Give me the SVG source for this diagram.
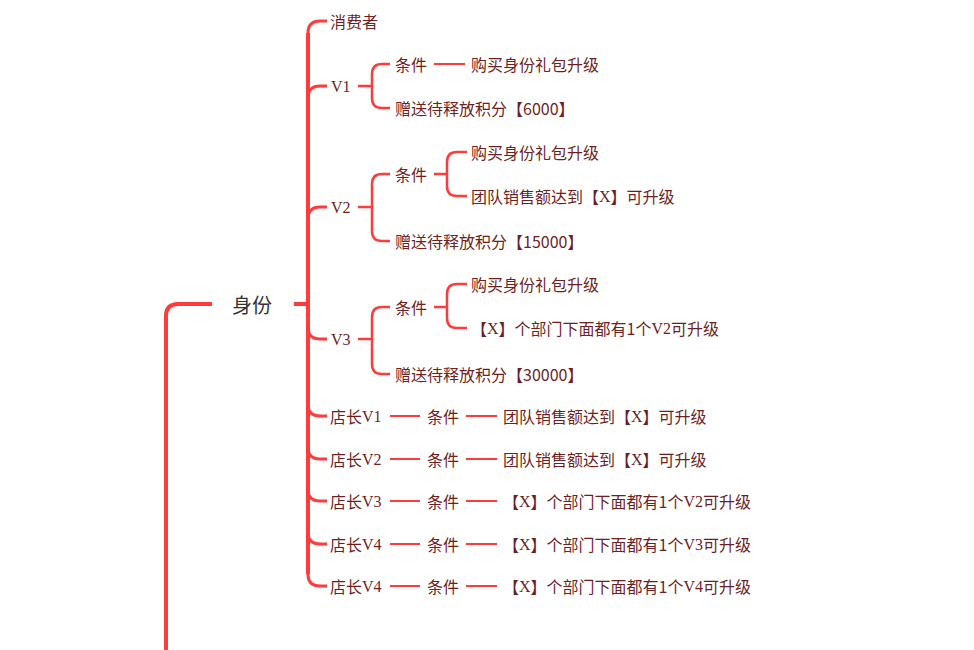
<svg xmlns="http://www.w3.org/2000/svg" width="974" height="650" viewBox="0 0 974 650">
<style>
.ln{fill:none;stroke:#ff3b3b;stroke-linecap:butt;stroke-linejoin:round}
.t4{stroke-width:4}
.t3{stroke-width:3}
.t2{stroke-width:2.5}
.t1{stroke-width:2}
text{font-family:"Noto Sans CJK SC","Noto Sans",sans-serif;font-size:16px;fill:#6e1f1f;dominant-baseline:central}
.root{font-size:20px;fill:#333333}
.s{font-family:"Liberation Serif","Noto Sans CJK SC",serif}
</style>
<rect width="974" height="650" fill="#ffffff"/>
<g id="connectors">
<path class="ln t4" d="M166,650 V316 Q166,304 178,304 H212"/>
<path class="ln t4" d="M294,304 H308"/>
<path class="ln t4" d="M308,33 V574"/>
<path class="ln t3" d="M308,33 Q308,21 320,21 H327"/>
<path class="ln t3" d="M308,98 Q308,86 320,86 H327"/>
<path class="ln t3" d="M308,219 Q308,207 320,207 H327"/>
<path class="ln t3" d="M308,327 Q308,339 320,339 H327"/>
<path class="ln t3" d="M308,404 Q308,416 320,416 H327"/>
<path class="ln t3" d="M308,447 Q308,459 320,459 H327"/>
<path class="ln t3" d="M308,489 Q308,501 320,501 H327"/>
<path class="ln t3" d="M308,532 Q308,544 320,544 H327"/>
<path class="ln t3" d="M308,574 Q308,586 320,586 H327"/>
<path class="ln t2" d="M358,86 H372"/>
<path class="ln t2" d="M390,64 H382 Q372,64 372,74 V98 Q372,108 382,108 H390"/>
<path class="ln t1" d="M434,64 H465"/>
<path class="ln t2" d="M358,207 H372"/>
<path class="ln t2" d="M390,174 H382 Q372,174 372,184 V231 Q372,241 382,241 H390"/>
<path class="ln t2" d="M434,174 H447"/>
<path class="ln t2" d="M467,152 H457 Q447,152 447,162 V186 Q447,196 457,196 H467"/>
<path class="ln t2" d="M358,339 H372"/>
<path class="ln t2" d="M390,307 H382 Q372,307 372,317 V364 Q372,374 382,374 H390"/>
<path class="ln t2" d="M434,307 H447"/>
<path class="ln t2" d="M467,284 H457 Q447,284 447,294 V318 Q447,328 457,328 H467"/>
<path class="ln t1" d="M390,416 H420 M466,416 H497"/>
<path class="ln t1" d="M390,459 H420 M466,459 H497"/>
<path class="ln t1" d="M390,501 H420 M466,501 H497"/>
<path class="ln t1" d="M390,544 H420 M466,544 H497"/>
<path class="ln t1" d="M390,586 H420 M466,586 H497"/>
</g>
<g id="n-root"><text class="root" x="232" y="304">身份</text></g>
<g id="n-consumer"><text x="330" y="21">消费者</text></g>
<g id="n-v1"><text x="331" y="86"><tspan class="s">V1</tspan></text></g>
<g id="n-v1-cond"><text x="395" y="64">条件</text></g>
<g id="n-v1-cond-a"><text x="471" y="64">购买身份礼包升级</text></g>
<g id="n-v1-gift"><text x="395" y="108">赠送待释放积分【6000】</text></g>
<g id="n-v2"><text x="331" y="207"><tspan class="s">V2</tspan></text></g>
<g id="n-v2-cond"><text x="395" y="174">条件</text></g>
<g id="n-v2-cond-a"><text x="471" y="152">购买身份礼包升级</text></g>
<g id="n-v2-cond-b"><text x="471" y="196">团队销售额达到【<tspan class="s">X</tspan>】可升级</text></g>
<g id="n-v2-gift"><text x="395" y="241">赠送待释放积分【15000】</text></g>
<g id="n-v3"><text x="331" y="339"><tspan class="s">V3</tspan></text></g>
<g id="n-v3-cond"><text x="395" y="307">条件</text></g>
<g id="n-v3-cond-a"><text x="471" y="284">购买身份礼包升级</text></g>
<g id="n-v3-cond-b"><text x="471" y="328">【<tspan class="s">X</tspan>】个部门下面都有1个<tspan class="s">V2</tspan>可升级</text></g>
<g id="n-v3-gift"><text x="395" y="374">赠送待释放积分【30000】</text></g>
<g id="n-s1"><text x="330" y="416">店长<tspan class="s">V1</tspan></text></g>
<g id="n-s1-cond"><text x="427" y="416">条件</text></g>
<g id="n-s1-a"><text x="503" y="416">团队销售额达到【<tspan class="s">X</tspan>】可升级</text></g>
<g id="n-s2"><text x="330" y="459">店长<tspan class="s">V2</tspan></text></g>
<g id="n-s2-cond"><text x="427" y="459">条件</text></g>
<g id="n-s2-a"><text x="503" y="459">团队销售额达到【<tspan class="s">X</tspan>】可升级</text></g>
<g id="n-s3"><text x="330" y="501">店长<tspan class="s">V3</tspan></text></g>
<g id="n-s3-cond"><text x="427" y="501">条件</text></g>
<g id="n-s3-a"><text x="503" y="501">【<tspan class="s">X</tspan>】个部门下面都有1个<tspan class="s">V2</tspan>可升级</text></g>
<g id="n-s4"><text x="330" y="544">店长<tspan class="s">V4</tspan></text></g>
<g id="n-s4-cond"><text x="427" y="544">条件</text></g>
<g id="n-s4-a"><text x="503" y="544">【<tspan class="s">X</tspan>】个部门下面都有1个<tspan class="s">V3</tspan>可升级</text></g>
<g id="n-s5"><text x="330" y="586">店长<tspan class="s">V4</tspan></text></g>
<g id="n-s5-cond"><text x="427" y="586">条件</text></g>
<g id="n-s5-a"><text x="503" y="586">【<tspan class="s">X</tspan>】个部门下面都有1个<tspan class="s">V4</tspan>可升级</text></g>
</svg>
